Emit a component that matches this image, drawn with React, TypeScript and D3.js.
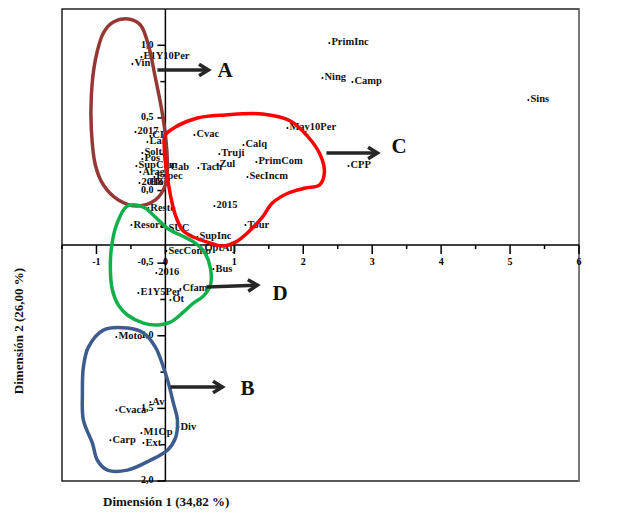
import * as d3 from 'd3';

// point labels and their coordinates on the two dimensions
const labels = [
  'E1Y10Per', 'Vin', 'PrimInc', 'Ning', 'Camp', 'Sins', 'May10Per', 'Cvac', 'Calq', 'Truji',
  'Tach', 'Zul', 'PrimCom', 'SecIncm', 'CPP', '2015', 'Tour', 'SupInc', '2017', 'CP',
  'Lar', 'Solt', 'Pos', 'SupCom', 'Arag', 'Cab', 'Espec', '2018', 'Hor', 'Resto',
  'Resort', 'SUC', 'SecComp', 'OptAlj', 'Bus', '2016', 'Cfam', 'E1Y5Per', 'Ot', 'Moto',
  'Av', 'Cvaca', 'Div', 'M1Op', 'Ext', 'Carp',
];
const dim1 = [
  -0.348, -0.479, 2.379, 2.278, 2.713, 5.266, 1.77, 0.421, 1.132, 0.783,
  0.479, 0.754, 1.32, 1.19, 2.655, 0.711, 1.161, 0.464, -0.435, -0.218,
  -0.261, -0.334, -0.334, -0.421, -0.363, 0.044, -0.16, -0.377, -0.247, -0.247,
  -0.493, 0.015, 0.015, 0.537, 0.696, -0.131, 0.218, -0.392, 0.073, -0.711,
  -0.218, -0.711, 0.189, -0.348, -0.319, -0.798,
];
const dim2 = [
  0.919, 0.871, 1.016, 0.775, 0.747, 0.623, 0.43, 0.382, 0.313, 0.251,
  0.155, 0.176, 0.196, 0.093, 0.169, -0.107, -0.238, -0.32, 0.403, 0.375,
  0.334, 0.258, 0.217, 0.169, 0.127, 0.155, 0.093, 0.052, 0.052, -0.121,
  -0.238, -0.265, -0.417, -0.403, -0.541, -0.568, -0.678, -0.706, -0.754, -1.009,
  -1.457, -1.512, -1.629, -1.67, -1.739, -1.719,
];

const xTickLabels = ['-1', '0', '1', '2', '3', '4', '5', '6'];
const yTickLabels = ['1,0', '0,5', '0,0', '-0,5', '1,0', '1,5', '2,0'];

// hand-drawn group outlines (data units)
type P = [number, number];
const loopA: P[] = [
  [-0.754, 1.16], [-0.537, 1.181], [-0.363, 1.14], [-0.247, 1.002], [-0.145, 0.775], [-0.058, 0.568],
  [0, 0.382], [0.029, 0.176], [0, 0.038], [-0.145, -0.065], [-0.406, -0.107], [-0.682, -0.065],
  [-0.899, 0.038], [-1.016, 0.176], [-1.074, 0.417], [-1.074, 0.658], [-1.016, 0.899], [-0.899, 1.085],
];
const loopC: P[] = [
  [0, 0.382], [0.145, 0.437], [0.464, 0.499], [0.87, 0.52], [1.407, 0.527], [1.813, 0.479],
  [2.06, 0.375], [2.234, 0.258], [2.307, 0.127], [2.234, 0.038], [2.031, 0.017], [1.784, -0.017],
  [1.552, -0.086], [1.407, -0.183], [1.233, -0.272], [1.016, -0.355], [0.827, -0.382], [0.609, -0.355],
  [0.406, -0.32], [0.247, -0.272], [0.145, -0.169], [0.073, -0.031], [0.015, 0.141], [-0.015, 0.279],
];
const loopD: P[] = [
  [-0.551, -0.107], [-0.319, -0.114], [-0.145, -0.183], [0.044, -0.265], [0.247, -0.313], [0.435, -0.362],
  [0.566, -0.424], [0.653, -0.534], [0.653, -0.651], [0.551, -0.727], [0.406, -0.775], [0.261, -0.837],
  [0.073, -0.906], [-0.102, -0.926], [-0.319, -0.913], [-0.551, -0.857], [-0.682, -0.789], [-0.769, -0.685],
  [-0.798, -0.548], [-0.783, -0.396], [-0.711, -0.238],
];
const loopB: P[] = [
  [-0.899, -0.961], [-0.551, -0.947], [-0.319, -0.981], [-0.145, -1.078], [-0.029, -1.216], [0.044, -1.326],
  [0.116, -1.464], [0.174, -1.581], [0.145, -1.705], [0.029, -1.788], [-0.218, -1.857], [-0.551, -1.925],
  [-0.841, -1.925], [-0.987, -1.857], [-1.059, -1.739], [-1.19, -1.581], [-1.204, -1.395], [-1.19, -1.216],
  [-1.117, -1.078],
];

const groups = [
  { name: 'A', loop: loopA, color: '#953735', arrow: [[-0.116, 0.83], [0.624, 0.83]], text: [0.754, 0.816] },
  { name: 'C', loop: loopC, color: '#ff0000', arrow: [[2.336, 0.258], [3.076, 0.258]], text: [3.279, 0.293] },
  { name: 'D', loop: loopD, color: '#12b04a', arrow: [[0.595, -0.665], [1.335, -0.651]], text: [1.552, -0.72] },
  { name: 'B', loop: loopB, color: '#3d5b8c', arrow: [[0.073, -1.353], [0.827, -1.353]], text: [1.088, -1.374] },
];

const W = 617;
const H = 526;
const left = 62, right = 579, top = 9, bottom = 481;
const serif = '"Liberation Serif", "Times New Roman", serif';

export default function App() {
  const x = d3.scaleLinear().domain([-1.5, 6]).range([left, right]);
  const y = d3.scaleLinear().domain([-2, 1.25]).range([bottom, top]);

  const line = d3
    .line<P>()
    .x((d) => x(d[0]))
    .y((d) => y(d[1]))
    .curve(d3.curveCatmullRomClosed);

  const xTicks = d3.range(-1.5, 6.01, 0.5);
  const yTicks = d3.range(-2, 1.01, 0.25);
  const y0 = y(0) + 54.5; // horizontal axis is drawn lower than the y origin in the source
  const x0 = x(0);

  return (
    <svg width={W} height={H} style={{ position: 'absolute', left: 0, top: 0, background: '#fff' }} fontFamily={serif}>
      <rect x={left} y={top} width={right - left} height={bottom - top} fill="#fff" stroke="#000" strokeWidth={1.3} />
      <line x1={right} x2={right} y1={top} y2={bottom} stroke="#8a8a8a" strokeWidth={1.3} />

      {/* horizontal axis */}
      <line x1={left} x2={right} y1={y0} y2={y0} stroke="#000" strokeWidth={1.5} />
      {xTicks.map((t) => {
        const major = Math.abs(t - Math.round(t)) < 1e-6;
        return (
          <line key={'xt' + t} x1={x(t)} x2={x(t)} y1={y0} y2={y0 + (major ? 9 : 4)} stroke="#000" strokeWidth={1.5} />
        );
      })}
      {xTickLabels.map((l) => (
        <text key={'xl' + l} x={x(+l)} y={y0 + 18} fontSize={10} fontWeight="bold" textAnchor="middle" dominantBaseline="middle">
          {l}
        </text>
      ))}

      {/* vertical axis */}
      <line x1={x0} x2={x0} y1={top} y2={bottom} stroke="#000" strokeWidth={1.5} />
      {yTicks.map((t) => {
        const major = Math.abs(t * 2 - Math.round(t * 2)) < 1e-6;
        return (
          <line key={'yt' + t} x1={x0 - (major ? 8 : 5)} x2={x0} y1={y(t)} y2={y(t)} stroke="#000" strokeWidth={1.5} />
        );
      })}
      {yTickLabels.map((l, i) => (
        <text key={'yl' + i} x={x0 - 12} y={y(1 - i * 0.5)} fontSize={10} fontWeight="bold" textAnchor="end" dominantBaseline="middle">
          {l}
        </text>
      ))}

      {/* points */}
      {labels.map((l, i) => (
        <g key={l}>
          <circle cx={x(dim1[i])} cy={y(dim2[i])} r={1} fill="#000" />
          <text x={x(dim1[i]) + 2} y={y(dim2[i])} fontSize={10.5} fontWeight="bold" dominantBaseline="middle" fill="#111">
            {l}
          </text>
        </g>
      ))}

      {/* groups */}
      {groups.map((g) => {
        const [[ax1, ay1], [ax2, ay2]] = g.arrow;
        const tx = x(ax2), ty = y(ay2);
        const ang = Math.atan2(y(ay2) - y(ay1), x(ax2) - x(ax1));
        const hl = 11, hw = 0.55;
        return (
          <g key={g.name}>
            <path d={line(g.loop) ?? ''} fill="none" stroke={g.color} strokeWidth={3.5} />
            <line x1={x(ax1)} y1={y(ay1)} x2={tx} y2={ty} stroke="#262626" strokeWidth={3.5} />
            <path
              d={`M${tx - hl * Math.cos(ang - hw)},${ty - hl * Math.sin(ang - hw)}L${tx},${ty}L${tx - hl * Math.cos(ang + hw)},${ty - hl * Math.sin(ang + hw)}`}
              fill="none"
              stroke="#262626"
              strokeWidth={3.5}
            />
            <text x={x(g.text[0])} y={y(g.text[1])} fontSize={21} fontWeight="bold" dominantBaseline="middle" fill="#111">
              {g.name}
            </text>
          </g>
        );
      })}

      {/* axis titles */}
      <text x={103} y={503} fontSize={13} fontWeight="bold" dominantBaseline="middle" fill="#111">
        Dimensión 1 (34,82 %)
      </text>
      <text transform="translate(20,331) rotate(-90)" fontSize={13} fontWeight="bold" textAnchor="middle" dominantBaseline="middle" fill="#111">
        Dimensión 2 (26,00 %)
      </text>
    </svg>
  );
}
